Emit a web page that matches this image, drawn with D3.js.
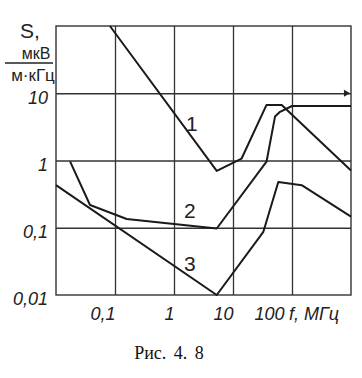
<!DOCTYPE html>
<html>
<head>
<meta charset="utf-8">
<script src="https://cdn.jsdelivr.net/npm/d3@7"></script>
<style>
  body { margin: 0; background: #fff; }
  svg { display: block; }
  .tick text { font-family: 'Liberation Sans Narrow', 'Liberation Sans', sans-serif; font-style: italic; font-size: 18px; fill: #222; }
</style>
</head>
<body>
<script>
// curve data: frequency in MHz, S in mkV/(m*kHz)
const f1 = [0.082, 5.3, 14, 37, 67, 1000];
const s1 = [100, 0.7, 1.07, 6.7, 6.7, 0.71];

const f2 = [0.0173, 0.0377, 0.158, 5.3, 37, 51.5, 62.7, 100, 1000];
const s2 = [0.97, 0.218, 0.135, 0.0975, 0.96, 4.5, 5.3, 6.46, 6.46];

const f3 = [0.01, 5.3, 32.7, 58.6, 146, 1000];
const s3 = [0.43, 0.01, 0.087, 0.48, 0.43, 0.146];

const curveNames = ['1', '2', '3'];
const labelAt = [[2.0, 2.75], [1.85, 0.14], [1.85, 0.0228]];

const xTicks = [0.1, 1, 10, 100];
const xTickLabels = ['0,1', '1', '10', '100'];
const yTicks = [0.01, 0.1, 1, 10];
const yTickLabels = ['0,01', '0,1', '1', '10'];

const W = 362, H = 378;
const margin = { top: 26, right: 11, bottom: 83, left: 56 };
const width = W - margin.left - margin.right;
const height = H - margin.top - margin.bottom;

const x = d3.scaleLog().domain([0.01, 1000]).range([0, width]);
const y = d3.scaleLog().domain([0.01, 100]).range([height, 0]);

const svg = d3.select('body').append('svg')
    .attr('width', W)
    .attr('height', H);

const g = svg.append('g')
    .attr('transform', `translate(${margin.left},${margin.top})`);

// grid + tick labels
const xAxis = g.append('g')
    .attr('transform', `translate(0,${height})`)
    .call(d3.axisBottom(x).tickValues(xTicks)
        .tickFormat((d, i) => xTickLabels[i])
        .tickSize(-height).tickPadding(0));
xAxis.select('.domain').remove();
xAxis.selectAll('.tick line').attr('stroke', '#333').attr('stroke-width', 1.3);
xAxis.selectAll('.tick text')
    .attr('text-anchor', 'end')
    .attr('dx', (d, i) => i === 3 ? -8 : 0)
    .attr('y', 25).attr('dy', 0);

const yAxis = g.append('g')
    .call(d3.axisLeft(y).tickValues(yTicks)
        .tickFormat((d, i) => yTickLabels[i])
        .tickSize(-width).tickPadding(8));
yAxis.select('.domain').remove();
yAxis.selectAll('.tick line')
    .attr('stroke', '#333').attr('stroke-width', 1.3)
    .style('display', d => d === 0.01 ? 'none' : null);
yAxis.selectAll('.tick text').attr('dy', '0.55em');

// frame
g.append('rect')
    .attr('width', width).attr('height', height)
    .attr('fill', 'none').attr('stroke', '#333').attr('stroke-width', 1.4);

// small arrow on the 10 line at right
g.append('path')
    .attr('d', d3.symbol(d3.symbolTriangle, 22)())
    .attr('transform', `translate(${width - 5},${y(10)}) rotate(90)`)
    .attr('fill', '#222');

// curves
const line = d3.line()
    .x(d => x(d[0]))
    .y(d => y(d[1]));

[[f1, s1], [f2, s2], [f3, s3]].forEach(([fs, ss]) => {
    g.append('path')
        .datum(fs.map((f, i) => [f, ss[i]]))
        .attr('d', line)
        .attr('fill', 'none')
        .attr('stroke', '#1a1a1a')
        .attr('stroke-width', 2)
        .attr('stroke-linejoin', 'round');
});

g.selectAll('.clabel')
    .data(curveNames)
    .enter().append('text')
    .attr('class', 'clabel')
    .attr('x', (d, i) => x(labelAt[i][0]))
    .attr('y', (d, i) => y(labelAt[i][1]))
    .attr('text-anchor', 'middle')
    .style('font-family', "'Liberation Sans', sans-serif")
    .style('font-size', '21px')
    .style('fill', '#222')
    .text(d => d);

// axis titles
const tf = "'Liberation Sans Narrow', 'Liberation Sans', sans-serif";
svg.append('text').attr('x', 20).attr('y', 38)
    .style('font-family', tf).style('font-size', '21px').style('fill', '#222')
    .text('S,');
svg.append('text').attr('x', 36).attr('y', 59).attr('text-anchor', 'middle')
    .style('font-family', tf).style('font-size', '16px').style('fill', '#222')
    .text('мкВ');
svg.append('line')
    .attr('x1', 5).attr('x2', 53).attr('y1', 63).attr('y2', 63)
    .attr('stroke', '#222').attr('stroke-width', 1.3);
svg.append('text').attr('x', 33).attr('y', 81).attr('text-anchor', 'middle')
    .style('font-family', tf).style('font-size', '17px').style('fill', '#222')
    .text('м·кГц');

svg.append('text').attr('x', 289).attr('y', 320)
    .style('font-family', tf).style('font-style', 'italic').style('font-size', '18px').style('fill', '#222')
    .text('f, МГц');

// caption
svg.append('text').attr('x', 169).attr('y', 359).attr('text-anchor', 'middle')
    .style('font-family', "'Liberation Serif', serif").style('font-size', '18px')
    .style('word-spacing', '3px').style('fill', '#111')
    .text('Рис. 4. 8');
</script>
</body>
</html>
